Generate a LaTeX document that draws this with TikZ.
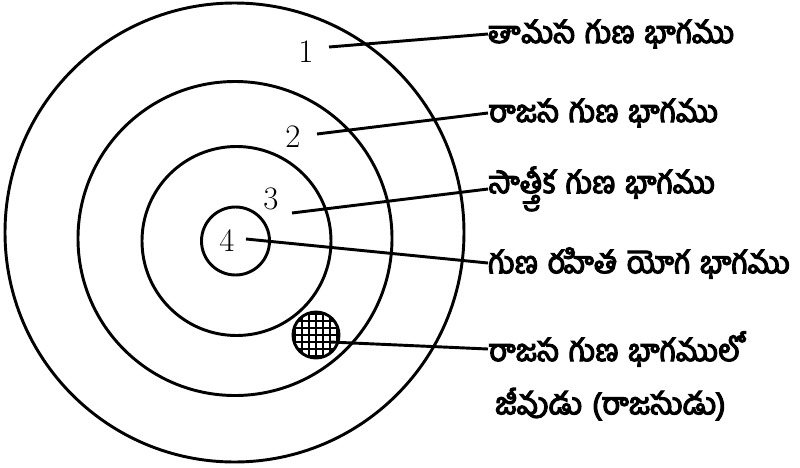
\documentclass[tikz,border=0pt]{standalone}
\usepackage{fontspec}
\newfontfamily\telfont[Script=Telugu, FakeBold=4, WordSpace=1.3]{Hind Guntur}
\usetikzlibrary{positioning}

\begin{document}
\begin{tikzpicture}[
		x=0.03cm, y=-0.03cm,
		ring/.style={draw, line width=2.5pt},
		pointer/.style={line width=2.5pt},
		num/.style={inner sep=0pt, font=\fontsize{28}{30}\selectfont},
		part/.style={anchor=west, inner sep=0pt, font=\telfont\fontsize{26}{30}\selectfont}
		]
		\useasboundingbox (0,0) rectangle (800,467);
		% the four rings
		\draw [ring] (234.5,232.5) circle (229.5);
		\draw [ring] (235,238.5) circle (157);
		\draw [ring] (236.5,241) circle (94.5);
		\draw [ring] (235.5,241) circle (34);
		% the jiva, hatched
		\begin{scope}
			\clip (316,335) circle (23);
			\foreach \d in {-21,-14,...,21} {
				\draw [line width=0.9pt] (316+\d,310) -- (316+\d,360);
				\draw [line width=0.9pt] (290,335+\d) -- (342,335+\d);
			}
		\end{scope}
		\draw [ring] (316,335) circle (23);
		% numbers
		\node [num] (one) at (306,52) {1};
		\node [num] (two) at (293,137) {2};
		\node [num] (three) at (271,199) {3};
		\node [num] (four) at (227,241) {4};
		\coordinate (p1) at (329,47);
		\coordinate (p2) at (317,134);
		\coordinate (p3) at (292,213);
		\coordinate (p4) at (246,239);
		\coordinate (p5) at (330,342);
		% labels
		\node [part] (tamasa) at (488,34) {తామస గుణ భాగము};
		\node [part] (rajasa) at (488,113) {రాజస గుణ భాగము};
		\node [part] (satvika) at (488,189) {సాత్త్వీక గుణ భాగము};
		\node [part] (yoga) at (488,263) {గుణ రహిత యోగ భాగము};
		\node [part] (jiva) at (488,349) {రాజస గుణ భాగములో};
		\node [part] (rajasudu) [below=18pt of jiva.south west, anchor=north west, xshift=6pt] {జీవుడు (రాజసుడు)};
		% pointers
		\draw [pointer] (p1) -- (tamasa.west);
		\draw [pointer] (p2) -- (rajasa.west);
		\draw [pointer] (p3) -- (satvika.west);
		\draw [pointer] (p4) -- (yoga.west);
		\draw [pointer] (p5) -- (jiva.west);
	\end{tikzpicture}
\end{document}
